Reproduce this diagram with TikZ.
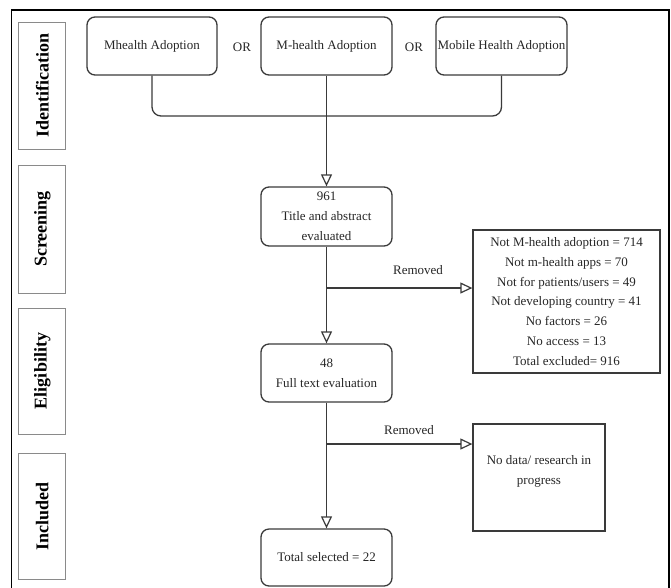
\documentclass[tikz,border=0pt]{standalone}
\usepackage{fontspec}
\setmainfont{Liberation Serif}
\usetikzlibrary{arrows.meta,calc}
\definecolor{lineg}{HTML}{3A3A3A}
\definecolor{sideg}{HTML}{8A8A8A}
\definecolor{txt}{HTML}{262626}
\tikzset{
  flowbox/.style={draw=lineg, line width=1.3pt, rounded corners=8pt, inner sep=0pt,
    minimum width=131pt, minimum height=58pt, align=center, text=txt,
    font=\fontsize{13}{20}\selectfont},
  plainbox/.style={draw=lineg, line width=1.3pt, inner sep=0pt, align=center, text=txt,
    font=\fontsize{13}{19.7}\selectfont},
  sidebox/.style={draw=sideg, line width=1pt, inner sep=0pt, minimum width=46.7pt},
  sidelabel/.style={rotate=90, text=black, font=\fontsize{18}{20}\selectfont\bfseries},
  conn/.style={draw=lineg, line width=1.3pt},
  arr/.style={conn, -{Triangle[open, length=12pt, width=11pt, line width=1.2pt]}},
  plaintext/.style={text=txt, font=\fontsize{13}{20}\selectfont, inner sep=0pt}
}
\begin{document}
\begin{tikzpicture}[x=1pt,y=-1pt]
\useasboundingbox (0,0) rectangle (671,587);
% outer frame
\draw[black, line width=1.2pt] (11.7,590) -- (11.7,10) -- (669,10) -- (669,590);
% side boxes
\node[sidebox, minimum height=127pt] (s1) at (42.3,85.5) {};
\node[sidelabel] (l1) at (s1.center) {Identification};
\node[sidebox, minimum height=128pt] (s2) at (42.3,229) {};
\node[sidelabel] (l2) at (s2.center) {Screening};
\node[sidebox, minimum height=126pt] (s3) at (42.3,371) {};
\node[sidelabel] (l3) at (s3.center) {Eligibility};
\node[sidebox, minimum height=126pt] (s4) at (42.3,516) {};
\node[sidelabel] (l4) at (s4.center) {Included};
% top boxes
\node[flowbox, minimum width=130pt] (m1) at (152,46) {Mhealth Adoption};
\node[flowbox] (m2) at (326.5,46) {M-health Adoption};
\node[flowbox] (m3) at (501.5,46) {Mobile Health Adoption};
\node[plaintext] (or1) at (242,47) {OR};
\node[plaintext] (or2) at (414,47) {OR};
% flow boxes
\node[flowbox, minimum height=59pt] (b1) at (326.5,216.5) {961\\Title and abstract\\evaluated};
\node[flowbox] (b2) at (326.5,373) {48\\Full text evaluation};
\node[flowbox, minimum height=57pt] (b3) at (326.5,557.5) {Total selected = 22};
% exclusion boxes
\node[plainbox, minimum width=187pt, minimum height=143pt] (ex) at (566.5,301.5)
  {Not M-health adoption = 714\\Not m-health apps = 70\\Not for patients/users = 49\\Not developing country = 41\\No factors = 26\\No access = 13\\Total excluded= 916};
\node[plainbox, minimum width=132pt, minimum height=107pt] (nd) at (539,477.5) {};
\node[plaintext, align=center] (ndt) at ($(nd.center)+(0,-6)$) {No data/ research in\\progress};
% connectors
\draw[conn, rounded corners=9pt] (m1.south) |- (m3.south |- 0,116) -- (m3.south);
\draw[arr] (m2.south) -- (b1.north);
\coordinate (j1) at (b1.south |- 0,288);
\coordinate (j2) at (b1.south |- 0,444);
\draw[arr] (b1.south) -- (b2.north);
\draw[arr] (j1) -- (j1 -| ex.west);
\draw[arr] (b2.south) -- (b3.north);
\draw[arr] (j2) -- (j2 -| nd.west);
\node[plaintext] (r1) at (418,270) {Removed};
\node[plaintext] (r2) at (409,430) {Removed};
\end{tikzpicture}
\end{document}
